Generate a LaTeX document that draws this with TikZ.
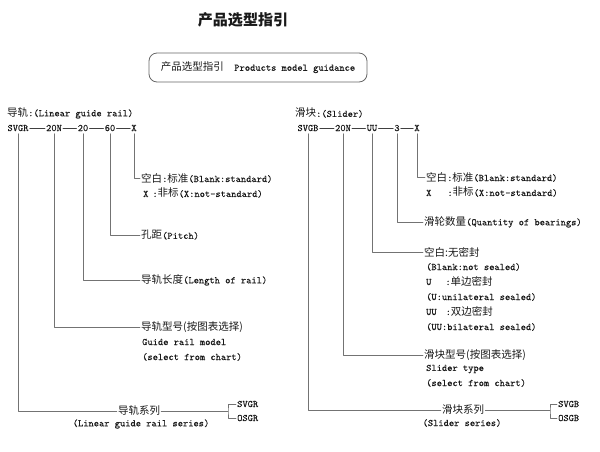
\documentclass[tikz,border=0pt]{standalone}
\usepackage{fontspec}
\setmonofont[FakeBold=0.2]{Latin Modern Mono}
\newfontfamily\cjk[Scale=1.05]{Noto Sans CJK SC}
\newcommand\zh[1]{{\cjk #1}}
\begin{document}
\begin{tikzpicture}[x=1pt, y=-1pt, line join=round, line cap=round,
	font=\fontsize{10}{12}\selectfont\ttfamily,
	txt/.style={inner sep=1pt, text=black!90},
	lab/.style={txt, anchor=west},
	code/.style={txt, inner xsep=1pt, inner ysep=2.5pt},
	link/.style={draw=black!75, line width=.7pt},
	lead/.style={draw=black!55, line width=.8pt}]
	\useasboundingbox (0,0) rectangle (600,451);
	\node[txt, font=\fontsize{14.3}{16}\selectfont\cjk\bfseries] (title) at (243,20) {产品选型指引};
	\node[txt, draw=black!60, line width=.8pt, rounded corners=8pt, minimum width=218pt, minimum height=29pt] (guide) at (258,67.5) {\zh{产品选型指引}\ \ Products model guidance};
	\node[lab] (rhead) at (6,113) {\zh{导轨}:(Linear guide rail)};
	\node[code] (r1) at (18,128) {SVGR};
	\node[code] (r2) at (54,128) {20N};
	\node[code] (r3) at (83,128) {20};
	\node[code] (r4) at (110,128) {60};
	\node[code] (r5) at (134,128) {X};
	\draw[link] (r1) -- (r2) (r2) -- (r3) (r3) -- (r4) (r4) -- (r5);
	\node[lab] (rx1) at (140,178) {\zh{空白}:\zh{标准}(Blank:standard)};
	\node[lab] (rx2) at (142,193) {X\hspace{4pt}:\zh{非标}(X:not-standard)};
	\node[lab] (rp) at (140,235) {\zh{孔距}(Pitch)};
	\node[lab] (rl) at (140,280) {\zh{导轨长度}(Length of rail)};
	\node[lab] (rm) at (140,327) {\zh{导轨型号(按图表选择)}};
	\node[lab] (rm2) at (141,342) {Guide rail model};
	\node[lab] (rm3) at (141,357) {(select from chart)};
	\node[txt] (rser) at (139,411) {\zh{导轨系列}};
	\node[txt] (rser2) at (141,424) {(Linear guide rail series)};
	\coordinate (rb) at (228,411);
	\node[lab] (rs1) at (236,404) {SVGR};
	\node[lab] (rs2) at (236,418) {OSGR};
	\draw[lead] (r5.south) |- (rx1.west);
	\draw[lead] (r4.south) |- (rp.west);
	\draw[lead] (r3.south) |- (rl.west);
	\draw[lead] (r2.south) |- (rm.west);
	\draw[lead] (r1.south) |- (rser.west);
	\draw[lead] (rser.east) -- (rb);
	\draw[lead] (rs1.west) -| (rb) |- (rs2.west);
	\node[lab] (shead) at (294,113) {\zh{滑块}:(Slider)};
	\node[code] (s1) at (308,128) {SVGB};
	\node[code] (s2) at (343,128) {20N};
	\node[code] (s3) at (372,128) {UU};
	\node[code] (s4) at (397,128) {3};
	\node[code] (s5) at (417,128) {X};
	\draw[link] (s1) -- (s2) (s2) -- (s3) (s3) -- (s4) (s4) -- (s5);
	\node[lab] (sx1) at (425,177) {\zh{空白}:\zh{标准}(Blank:standard)};
	\node[lab] (sx2) at (425,192) {X\hspace{16pt}:\zh{非标}(X:not-standard)};
	\node[lab] (sq) at (423,222) {\zh{滑轮数量}(Quantity of bearings)};
	\node[lab] (su1) at (423,252) {\zh{空白:无密封}};
	\node[lab] (su2) at (425,267) {(Blank:not sealed)};
	\node[lab] (su3) at (425,281) {U\hspace{14pt}:\zh{单边密封}};
	\node[lab] (su4) at (425,297) {(U:unilateral sealed)};
	\node[lab] (su5) at (425,311) {UU\hspace{9pt}:\zh{双边密封}};
	\node[lab] (su6) at (425,327) {(UU:bilateral sealed)};
	\node[lab] (sm) at (423,355) {\zh{滑块型号(按图表选择)}};
	\node[lab] (sm2) at (425,369) {Slider type};
	\node[lab] (sm3) at (425,383) {(select from chart)};
	\node[txt] (sser) at (463,410) {\zh{滑块系列}};
	\node[txt] (sser2) at (462,423) {(Slider series)};
	\coordinate (sb) at (550,410);
	\node[lab] (ss1) at (557,404) {SVGB};
	\node[lab] (ss2) at (557,418) {OSGB};
	\draw[lead] (s5.south) |- (sx1.west);
	\draw[lead] (s4.south) |- (sq.west);
	\draw[lead] (s3.south) |- (su1.west);
	\draw[lead] (s2.south) |- (sm.west);
	\draw[lead] (s1.south) |- (sser.west);
	\draw[lead] (sser.east) -- (sb);
	\draw[lead] (ss1.west) -| (sb) |- (ss2.west);
\end{tikzpicture}
\end{document}
